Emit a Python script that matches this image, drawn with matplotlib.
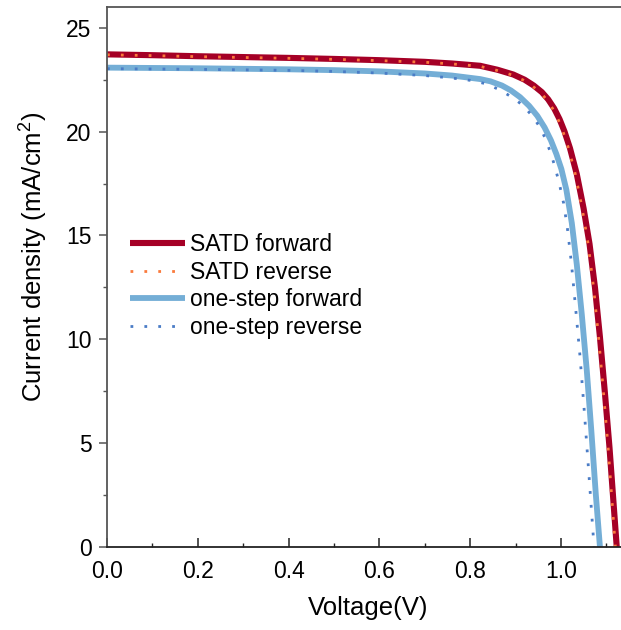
import matplotlib
matplotlib.use("Agg")
import matplotlib.pyplot as plt
from matplotlib.ticker import MultipleLocator, FormatStrFormatter

plt.rcParams['font.family'] = ['Liberation Sans', 'DejaVu Sans']
plt.rcParams['mathtext.fontset'] = 'custom'
plt.rcParams['mathtext.rm'] = 'Liberation Sans'

# SATD forward
v_satd_f = [0, 0.1, 0.2, 0.3, 0.4, 0.5, 0.6, 0.7, 0.76, 0.822, 0.86, 0.895, 0.92, 0.94,
            0.958, 0.972, 0.985, 0.997, 1.008, 1.02, 1.035, 1.05, 1.063, 1.075, 1.086,
            1.097, 1.107, 1.117, 1.123]
j_satd_f = [23.72, 23.68, 23.63, 23.59, 23.55, 23.5, 23.44, 23.36, 23.28, 23.17, 22.98,
            22.75, 22.5, 22.22, 21.9, 21.55, 21.12, 20.6, 20.0, 19.2, 17.95, 16.3, 14.6,
            12.5, 10.1, 7.4, 4.8, 1.8, 0.0]
# SATD reverse
v_satd_r = [0, 0.1, 0.2, 0.3, 0.4, 0.5, 0.6, 0.7, 0.76, 0.82, 0.857, 0.892, 0.917, 0.937,
            0.955, 0.969, 0.982, 0.994, 1.005, 1.017, 1.032, 1.047, 1.06, 1.072, 1.083,
            1.094, 1.104, 1.114, 1.12]
j_satd_r = [23.7, 23.66, 23.61, 23.57, 23.53, 23.48, 23.42, 23.34, 23.26, 23.15, 22.96,
            22.73, 22.48, 22.2, 21.88, 21.53, 21.1, 20.58, 19.98, 19.18, 17.93, 16.28, 14.58,
            12.48, 10.08, 7.38, 4.78, 1.78, 0.0]
# one-step forward
v_one_f = [0, 0.2, 0.4, 0.5, 0.6, 0.7, 0.76, 0.822, 0.845, 0.87, 0.89, 0.91, 0.93, 0.948,
           0.964, 0.978, 0.99, 1.001, 1.012, 1.024, 1.035, 1.046, 1.057, 1.067, 1.077, 1.086]
j_one_f = [23.08, 23.05, 23.0, 22.96, 22.9, 22.8, 22.7, 22.53, 22.42, 22.22, 21.98, 21.66,
           21.24, 20.76, 20.2, 19.58, 18.92, 18.2, 17.2, 15.6, 13.6, 11.2, 8.5, 5.6, 2.5, 0.0]
# one-step reverse
v_one_r = [0, 0.2, 0.4, 0.5, 0.6, 0.7, 0.76, 0.8, 0.836, 0.866, 0.895, 0.917, 0.939, 0.954,
           0.966, 0.977, 0.987, 0.997, 1.006, 1.014, 1.023, 1.032, 1.042, 1.052, 1.062, 1.073]
j_one_r = [23.03, 23.0, 22.95, 22.9, 22.82, 22.7, 22.58, 22.47, 22.3, 22.0, 21.62, 21.25,
           20.7, 20.2, 19.65, 19.0, 18.3, 17.45, 16.55, 15.4, 13.7, 11.6, 9.2, 6.4, 3.4, 0.0]

labels = ['SATD forward', 'SATD reverse', 'one-step forward', 'one-step reverse']
colors = ['#A50026', '#FA7A3C', '#74AED6', '#4A7CC6']

W, H = 621, 630
fig = plt.figure(figsize=(W / 100, H / 100), dpi=100)
ax = fig.add_axes([107 / W, (H - 547) / H, 522 / W, 540 / H])

ax.plot(v_satd_f, j_satd_f, color=colors[0], lw=4.4, label=labels[0], solid_capstyle='butt')
ax.plot(v_satd_r, j_satd_r, color=colors[1], lw=2.0, dashes=(1, 4.0), label=labels[1])
ax.plot(v_one_f, j_one_f, color=colors[2], lw=4.2, label=labels[2], solid_capstyle='butt')
ax.plot(v_one_r, j_one_r, color=colors[3], lw=2.0, dashes=(1, 4.0), label=labels[3])

ax.set_xlim(0, 1.15)
ax.set_ylim(0, 26)
ax.xaxis.set_major_locator(MultipleLocator(0.2))
ax.xaxis.set_minor_locator(MultipleLocator(0.1))
ax.yaxis.set_major_locator(MultipleLocator(5))
ax.yaxis.set_minor_locator(MultipleLocator(2.5))
ax.xaxis.set_major_formatter(FormatStrFormatter('%.1f'))

for s in ax.spines.values():
    s.set_color('#555555')
    s.set_linewidth(1.3)
ax.spines['bottom'].set_color('#222222')

ax.tick_params(axis='x', which='major', direction='in', length=6.5, width=1.1, labelsize=16.5,
               pad=9, color='#222222')
ax.tick_params(axis='x', which='minor', direction='in', length=3.2, width=1.0, color='#222222')
ax.tick_params(axis='y', which='major', direction='out', length=6, width=1.1, labelsize=16.5,
               pad=5, color='#555555')
ax.tick_params(axis='y', which='minor', direction='out', length=3, width=1.0, color='#555555')

ax.set_xlabel('Voltage(V)', fontsize=18.5, labelpad=10)
ax.set_ylabel('Current density (mA/cm$^2$)', fontsize=18.5)
ax.yaxis.set_label_coords(-58 / 522, 0.537)

leg = ax.legend(loc='upper left', bbox_to_anchor=(0.026, 0.598), frameon=False, fontsize=16.5,
                handlelength=2.4, handletextpad=0.22, labelspacing=0.20, borderaxespad=0)

fig.savefig('out.png', dpi=100)
